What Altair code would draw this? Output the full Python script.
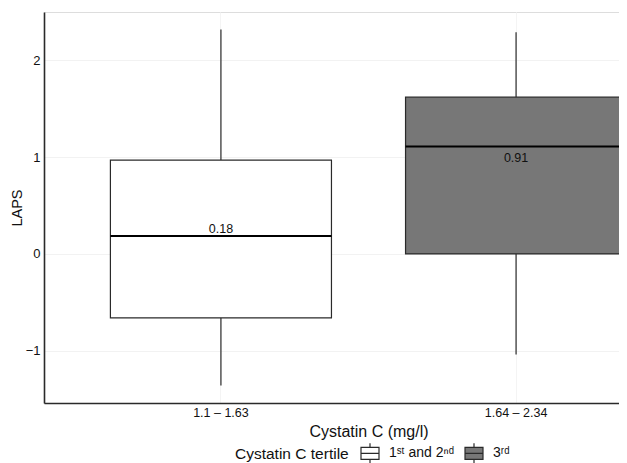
import altair as alt
import pandas as pd

categories = ["1.1 – 1.63", "1.64 – 2.34"]
groups = ["1ˢᵗ and 2ⁿᵈ", "3ʳᵈ"]
lower = [-1.36, -1.04]
q1 = [-0.66, 0.00]
median = [0.185, 1.11]
q3 = [0.97, 1.62]
upper = [2.32, 2.29]
labels = [0.18, 0.91]
fills = ["#ffffff", "#777777"]

df = pd.DataFrame({
    "cat": categories, "grp": groups, "lower": lower, "q1": q1,
    "median": median, "q3": q3, "upper": upper, "label": labels,
})

FONT = "Liberation Sans"
LINE = "#2a2a2a"

xenc = alt.X(
    "cat:N", sort=categories,
    scale=alt.Scale(domain=categories, range=[0, 649], paddingInner=0.251, paddingOuter=0.225),
    axis=alt.Axis(title="Cystatin C (mg/l)", labelAngle=0, ticks=False, domainColor=LINE,
                  domainWidth=1.6, labelFontSize=12.5, labelPadding=3, labelColor="#111",
                  titleFontSize=16, titlePadding=5, titleFontWeight="normal", titleColor="#111",
                  grid=True, gridColor="#f4f4f4", bandPosition=0.5),
)
yscale = alt.Scale(domain=[-1.54, 2.5], nice=False, zero=False)
yaxis = alt.Axis(title="LAPS", values=[-1, 0, 1, 2], ticks=False, domainColor=LINE, domainWidth=1.6,
                 labelFontSize=13, labelPadding=4, labelColor="#111", titleFontSize=14.5,
                 titlePadding=1, titleFontWeight="normal", titleColor="#111",
                 grid=True, gridColor="#f2f2f2")

base = alt.Chart(df)

whisk_lo = base.mark_rule(color=LINE, strokeWidth=1.2).encode(
    x=xenc, y=alt.Y("lower:Q", scale=yscale, axis=yaxis), y2="q1:Q")
whisk_hi = base.mark_rule(color=LINE, strokeWidth=1.2).encode(
    x=xenc, y=alt.Y("q3:Q", scale=yscale, axis=yaxis), y2="upper:Q")
box = base.mark_bar(stroke=LINE, strokeWidth=1.2, opacity=1).encode(
    x=xenc, y=alt.Y("q1:Q", scale=yscale, axis=yaxis), y2="q3:Q",
    color=alt.Color("grp:N", sort=groups,
                    scale=alt.Scale(domain=groups, range=fills),
                    legend=alt.Legend(
                        title="Cystatin C tertile", orient="none", legendX=191, legendY=430,
                        direction="horizontal", titleOrient="left", titleFontSize=15.5,
                        titleFontWeight="normal", titleColor="#111", titleFont=FONT,
                        titlePadding=10, labelFontSize=14, labelColor="#111", labelFont=FONT,
                        labelOffset=8, columnPadding=8,
                        symbolType="M-0.9,-0.6H0.9V0.6H-0.9Z M-0.9,0H0.9 M0,-0.6V-1 M0,0.6V1",
                        symbolSize=400, symbolStrokeColor=LINE, symbolStrokeWidth=1.2,
                        symbolOpacity=1)))
med = base.mark_tick(color="#000", thickness=2, size=221, opacity=1).encode(
    x=xenc, y=alt.Y("median:Q", scale=yscale, axis=yaxis))
txt = base.mark_text(baseline="bottom", dy=-1, fontSize=12.5, font=FONT, color="#111").encode(
    x=xenc, y=alt.Y("label:Q", scale=yscale, axis=yaxis),
    text=alt.Text("label:Q", format=".2f"))

chart = alt.layer(whisk_lo, whisk_hi, box, med, txt).properties(
    width=575, height=391,
    autosize=alt.AutoSizeParams(type="none"),
    padding={"left": 36, "top": 4, "right": 0, "bottom": 60},
).configure_view(stroke=None).configure(font=FONT)

chart.save("out.html", embed_options={"renderer": "svg", "actions": False})
